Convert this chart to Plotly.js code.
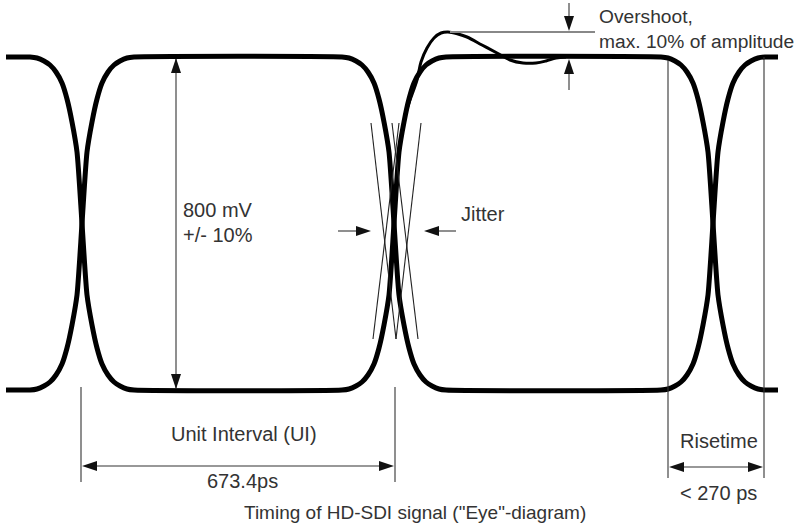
<!DOCTYPE html>
<html><head><meta charset="utf-8">
<script src="https://cdn.plot.ly/plotly-3.0.1.min.js"></script>
<style>html,body{margin:0;padding:0;background:#fff}#chart{width:800px;height:525px}</style>
</head><body><div id="chart"></div>
<script>
// ---- diagram values (drawing units = picture pixels) ----
const highLevel = 57;
const lowLevel = 390;
const crossings = [82, 394, 713];
const traceStartX = 6;
const traceEndX = 778;
// falling-edge profile: x offset from crossing and level reached
const edgeDx = [-52, -45, -38, -32, -26, -20, -15, -10, -5, 0, 5, 10, 15, 20, 26, 32, 38, 45, 52];
const edgeY  = [57, 58, 61, 65, 72, 83, 99, 122, 152, 223.5, 295, 325, 348, 364, 375, 382, 386, 389, 390];
// overshoot excursion on the rising edge
const overshootX = [405, 410, 417, 421, 427, 434, 441, 448, 458, 467, 482, 497, 510, 523, 536, 546, 556, 566];
const overshootY = [115, 100, 80, 62, 48, 38, 33, 32, 34, 37, 45, 53, 60, 63, 63, 61, 58, 57];
// jitter edges (top x, bottom x)
const jitterTopY = 123, jitterBottomY = 339;
const jitterTopX    = [371, 392, 399, 421];
const jitterBottomX = [396, 418, 373, 396];
// dimension annotations
const amplitudeX = 176;
const uiLeftX = 81, uiRightX = 395, uiArrowY = 466, uiLineTop = 387, uiLineBottom = 482;
const riseLeftX = 668, riseRightX = 764, riseArrowY = 467, riseLineTop = 60, riseLineBottom = 478;
const overshootRefY = 32, overshootRefX0 = 450, overshootRefX1 = 595, overshootArrowX = 569;

const labels = {
  overshoot1: 'Overshoot,', overshoot2: 'max. 10% of amplitude',
  amp1: '800 mV', amp2: '+/- 10%', jitter: 'Jitter',
  ui: 'Unit Interval (UI)', uiValue: '673.4ps',
  rise: 'Risetime', riseValue: '< 270 ps',
  caption: 'Timing of HD-SDI signal ("Eye"-diagram)'
};

// ---- build eye traces ----
function edge(cx, falling) {
  const xs = [], ys = [];
  for (let i = 0; i < edgeDx.length; i++) {
    xs.push(cx + edgeDx[i]);
    ys.push(falling ? edgeY[i] : highLevel + lowLevel - edgeY[i]);
  }
  return [xs, ys];
}
function eyeTrace(startHigh) {
  let xs = [traceStartX], ys = [startHigh ? highLevel : lowLevel];
  let high = startHigh;
  crossings.forEach(cx => {
    const [ex, ey] = edge(cx, high);
    xs = xs.concat(ex); ys = ys.concat(ey);
    high = !high;
  });
  xs.push(traceEndX); ys.push(high ? highLevel : lowLevel);
  return {x: xs, y: ys, mode: 'lines', line: {color: '#000', width: 5, shape: 'spline', smoothing: 0.6}, hoverinfo: 'skip'};
}
const traces = [eyeTrace(true), eyeTrace(false),
  {x: overshootX, y: overshootY, mode: 'lines', line: {color: '#000', width: 3, shape: 'spline', smoothing: 1}, hoverinfo: 'skip'}
];

// ---- shapes ----
const thin = {color: '#333', width: 1.1};
const shapes = [];
function seg(x0, y0, x1, y1, line) {
  shapes.push({type: 'line', xref: 'x', yref: 'y', x0, y0, x1, y1, line: line || thin, layer: 'above'});
}
function head(x, y, dir) {
  const L = 15, W = 5;
  let p;
  if (dir === 'up')    p = `M${x},${y} L${x-W},${y+L} L${x+W},${y+L} Z`;
  if (dir === 'down')  p = `M${x},${y} L${x-W},${y-L} L${x+W},${y-L} Z`;
  if (dir === 'left')  p = `M${x},${y} L${x+L},${y-W} L${x+L},${y+W} Z`;
  if (dir === 'right') p = `M${x},${y} L${x-L},${y-W} L${x-L},${y+W} Z`;
  shapes.push({type: 'path', xref: 'x', yref: 'y', path: p, fillcolor: '#111', line: {width: 0}, layer: 'above'});
}
// jitter edges
for (let i = 0; i < jitterTopX.length; i++) seg(jitterTopX[i], jitterTopY, jitterBottomX[i], jitterBottomY, {color: '#222', width: 1.1});
// amplitude arrow
seg(amplitudeX, highLevel + 2, amplitudeX, lowLevel - 2); head(amplitudeX, highLevel + 1, 'up'); head(amplitudeX, lowLevel - 1, 'down');
// jitter arrows
seg(338, 231, 360, 231); head(371, 231, 'right');
seg(436, 231, 456, 231); head(424, 231, 'left');
// overshoot reference
seg(overshootRefX0, overshootRefY, overshootRefX1, overshootRefY, {color: '#888', width: 2});
seg(overshootArrowX, 3, overshootArrowX, overshootRefY - 5); head(overshootArrowX, overshootRefY - 1, 'down');
seg(overshootArrowX, highLevel + 5, overshootArrowX, 90); head(overshootArrowX, highLevel + 2, 'up');
// unit interval
seg(uiLeftX, uiLineTop, uiLeftX, uiLineBottom); seg(uiRightX, uiLineTop, uiRightX, uiLineBottom);
seg(uiLeftX + 5, uiArrowY, uiRightX - 5, uiArrowY); head(uiLeftX + 1, uiArrowY, 'left'); head(uiRightX - 1, uiArrowY, 'right');
// risetime
seg(riseLeftX, riseLineTop, riseLeftX, riseLineBottom); seg(riseRightX, riseLineTop - 3, riseRightX, riseLineBottom);
seg(riseLeftX + 5, riseArrowY, riseRightX - 5, riseArrowY); head(riseLeftX + 1, riseArrowY, 'left'); head(riseRightX - 1, riseArrowY, 'right');

// ---- text ----
const font = {family: 'Liberation Sans, Arial, sans-serif', size: 20, color: '#333'};
function txt(text, x, y, xanchor, size) {
  return {text, x, y, xref: 'x', yref: 'y', xanchor: xanchor || 'left', yanchor: 'middle', showarrow: false,
    font: Object.assign({}, font, size ? {size} : {})};
}
const annotations = [
  txt(labels.overshoot1, 597, 16, 'left', 19.2), txt(labels.overshoot2, 597, 41, 'left', 19.2),
  txt(labels.amp1, 181, 210), txt(labels.amp2, 181, 235),
  txt(labels.jitter, 459, 214),
  txt(labels.ui, 244, 434, 'center'), txt(labels.uiValue, 242, 481, 'center'),
  txt(labels.rise, 719, 441, 'center'), txt(labels.riseValue, 718, 493, 'center'),
  txt(labels.caption, 415, 512, 'center', 19)
];

Plotly.newPlot('chart', traces, {
  width: 800, height: 525, margin: {l: 0, r: 0, t: 0, b: 0},
  paper_bgcolor: '#fff', plot_bgcolor: '#fff', showlegend: false,
  xaxis: {range: [0, 800], visible: false, fixedrange: true},
  yaxis: {range: [525, 0], visible: false, fixedrange: true},
  shapes, annotations
}, {staticPlot: true});
</script></body></html>
